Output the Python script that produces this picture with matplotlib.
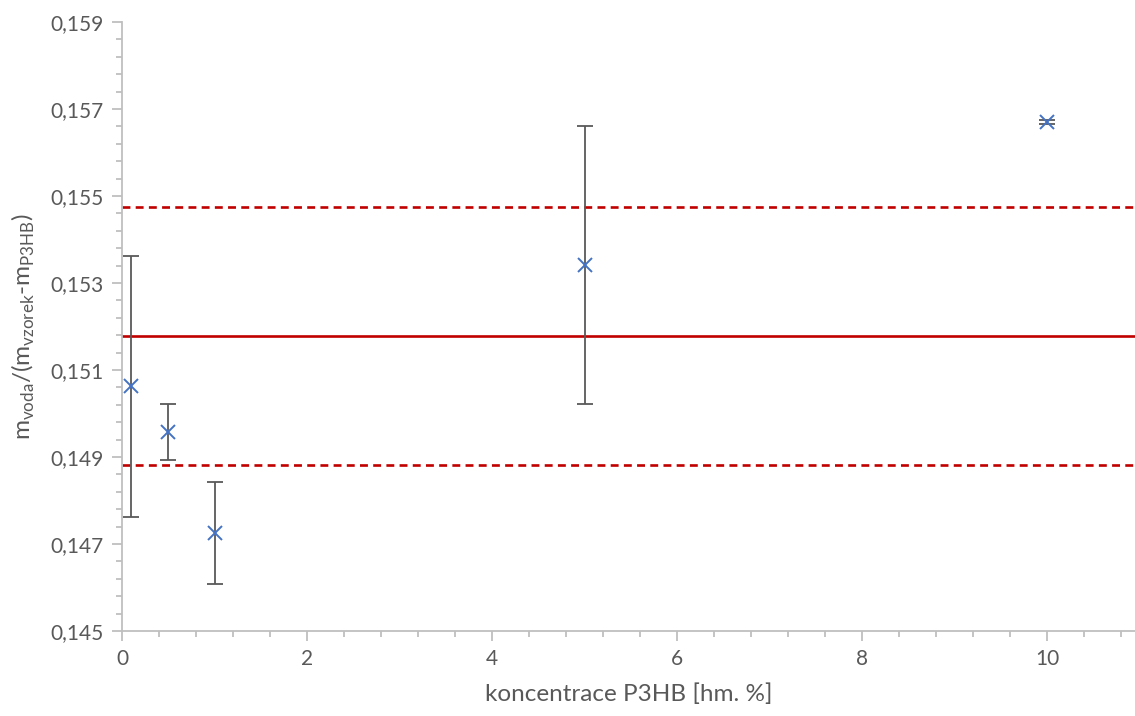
import numpy as np
import matplotlib
matplotlib.use("Agg")
import matplotlib.pyplot as plt
from matplotlib.ticker import FixedLocator, MultipleLocator, FuncFormatter

# data
konc = [0.1, 0.5, 1, 5, 10]
pomer = [0.15063, 0.14957, 0.14725, 0.15341, 0.15670]
chyba = [0.0030, 0.00065, 0.00117, 0.0032, 0.00005]

prumer = 0.15178
odchylka = 0.00297

plt.rcParams['font.family'] = ['Lato', 'DejaVu Sans']

fig = plt.figure(figsize=(11.35, 7.16), dpi=100)
ax = fig.add_axes([0.1075, 0.1187, 0.8925, 0.8506])

ax.axhline(prumer, color='#c00000', lw=1.9, zorder=2)
ax.axhline(prumer + odchylka, color='#c00000', lw=1.9, ls=(0, (3, 2)), zorder=2)
ax.axhline(prumer - odchylka, color='#c00000', lw=1.9, ls=(0, (3, 2)), zorder=2)

ax.errorbar(konc, pomer, yerr=chyba, fmt='none', ecolor='#595959',
            elinewidth=1.3, capsize=6, capthick=1.3, zorder=3)
ax.plot(konc, pomer, ls='none', marker='x', ms=10, mew=1.4,
        color='#4472c4', zorder=4)

ax.set_xlim(0, 10.95)
ax.set_ylim(0.145, 0.159)
ax.xaxis.set_major_locator(MultipleLocator(2))
ax.xaxis.set_minor_locator(MultipleLocator(0.4))
ax.yaxis.set_major_locator(FixedLocator(np.arange(0.145, 0.1591, 0.002)))
ax.yaxis.set_minor_locator(FixedLocator(np.arange(0.145, 0.1591, 0.0004)))
ax.yaxis.set_major_formatter(FuncFormatter(lambda v, p: f"{v:.3f}".replace('.', ',')))
ax.xaxis.set_major_formatter(FuncFormatter(lambda v, p: f"{v:.0f}"))

for s in ['top', 'right']:
    ax.spines[s].set_visible(False)
for s in ['left', 'bottom']:
    ax.spines[s].set_color('#bfbfbf')
    ax.spines[s].set_linewidth(1.3)

ax.tick_params(which='major', length=7, width=1.3, color='#bfbfbf',
               labelcolor='#595959', labelsize=15, pad=6)
ax.tick_params(which='minor', length=4, width=1.3, color='#bfbfbf')

ax.set_xlabel('koncentrace P3HB [hm. %]', fontsize=17.5, color='#595959', labelpad=10)
ax.set_ylabel(r'm$_{\mathregular{voda}}$/(m$_{\mathregular{vzorek}}$-m$_{\mathregular{P3HB}}$)',
              fontsize=17.5, color='#595959', labelpad=10)

fig.savefig('out.png', dpi=100)
